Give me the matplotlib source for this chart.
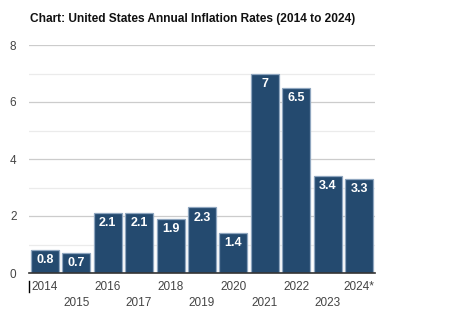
import matplotlib
matplotlib.use("Agg")
import matplotlib.pyplot as plt
from matplotlib.ticker import MultipleLocator

years = ["2014", "2015", "2016", "2017", "2018", "2019", "2020", "2021", "2022", "2023", "2024*"]
rates = [0.8, 0.7, 2.1, 2.1, 1.9, 2.3, 1.4, 7.0, 6.5, 3.4, 3.3]
value_labels = ["0.8", "0.7", "2.1", "2.1", "1.9", "2.3", "1.4", "7", "6.5", "3.4", "3.3"]
y_ticks = [0, 2, 4, 6, 8]

plt.rcParams["font.family"] = ["Liberation Sans", "DejaVu Sans"]

W, H = 456, 332
fig = plt.figure(figsize=(W / 100, H / 100), dpi=100)
left, right, bottom_px, top_px = 29, 375, 273, 45
ax = fig.add_axes([left / W, (H - bottom_px) / H, (right - left) / W, (bottom_px - top_px) / H])

x = list(range(len(years)))
ax.bar(x, rates, width=0.89, color="#244a6f", edgecolor="#8fa6bf", linewidth=0.9, zorder=3)

for xi, r, lab in zip(x, rates, value_labels):
    ax.annotate(lab, (xi, r), xytext=(0, -3), textcoords="offset points",
                ha="center", va="top", color="white", fontsize=9, fontweight="bold", zorder=4)

ax.set_xlim(-0.5, len(years) - 0.5)
ax.set_ylim(0, 8)
ax.set_yticks(y_ticks)
ax.yaxis.set_minor_locator(MultipleLocator(1))
ax.grid(axis="y", which="major", color="#cccccc", linewidth=0.9, zorder=0)
ax.grid(axis="y", which="minor", color="#ebebeb", linewidth=0.9, zorder=0)
ax.tick_params(axis="y", which="both", length=0, labelsize=8.5, labelcolor="#444444", pad=9)

ax.set_xticks(x)
ax.set_xticklabels([])
ax.tick_params(axis="x", length=0)
for xi, yr in zip(x, years):
    dy = -14 if xi % 2 == 0 else -30
    ax.annotate(yr, (xi, 0), xytext=(0, dy), textcoords="offset pixels",
                ha="center", va="center", fontsize=8.5, color="#444444",
                annotation_clip=False)

# small marker line at the start of the axis
ax.plot([-0.5, -0.5], [-0.29, -0.68], color="black", linewidth=1.0, clip_on=False)

for s in ["top", "right", "left"]:
    ax.spines[s].set_visible(False)
ax.spines["bottom"].set_color("#333333")
ax.spines["bottom"].set_linewidth(1.2)
ax.spines["bottom"].set_zorder(5)

fig.text(30 / W, 1 - 19 / H, "Chart: United States Annual Inflation Rates (2014 to 2024)",
         fontsize=8.6, fontweight="bold", color="#111111", va="center", ha="left")

fig.savefig("out.png", dpi=100, facecolor="white")
